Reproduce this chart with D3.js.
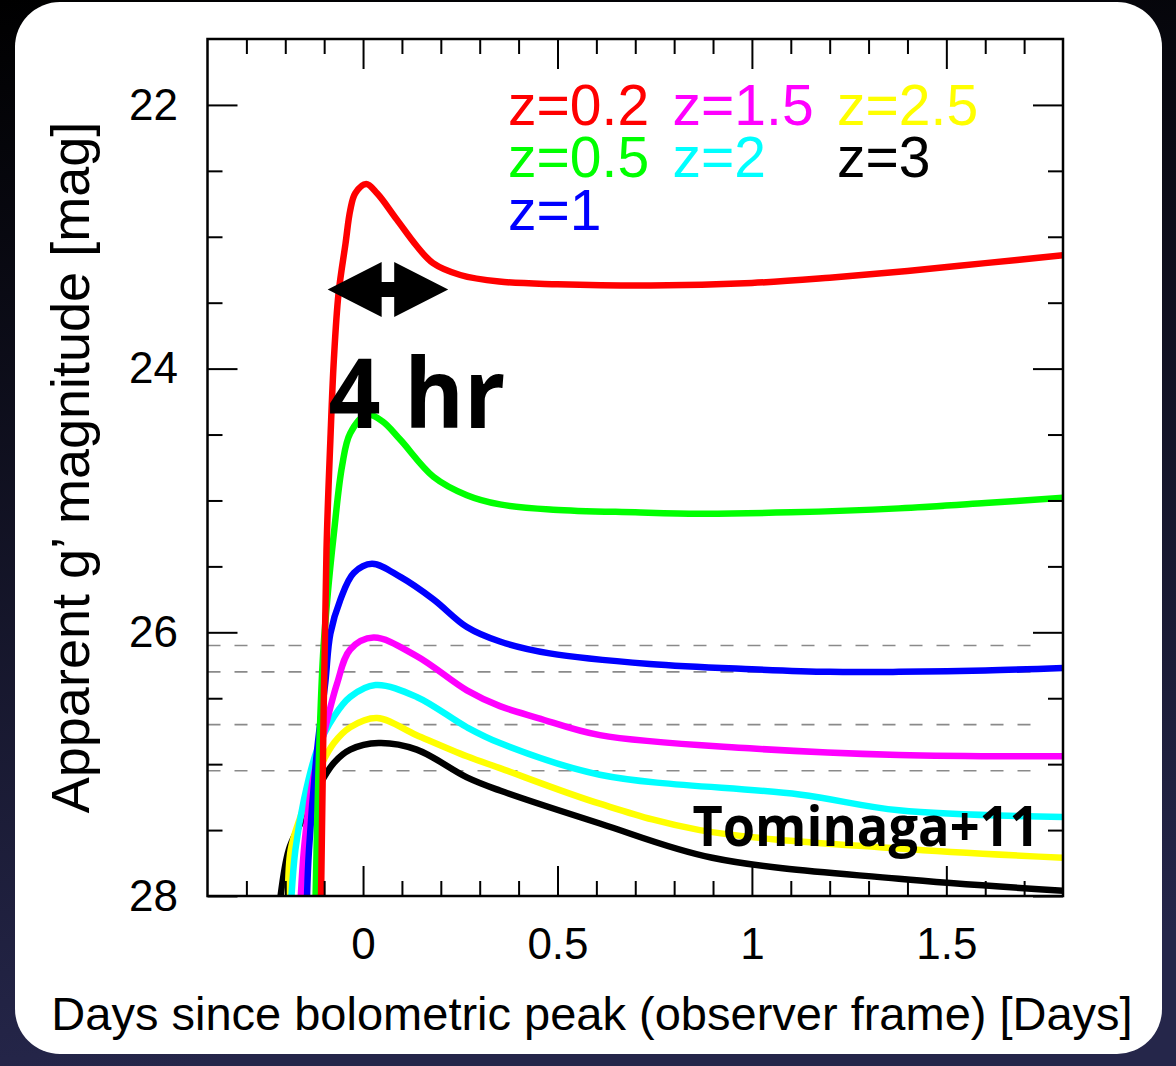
<!DOCTYPE html>
<html>
<head>
<meta charset="utf-8">
<script src="https://cdn.jsdelivr.net/npm/d3@7"></script>
<style>
  body { margin: 0; background: #000; }
  svg { display: block; }
</style>
</head>
<body>
<div id="chart"></div>
<script>
// light curves (days since peak, apparent g' mag)
var labels = ["z=0.2", "z=0.5", "z=1", "z=1.5", "z=2", "z=2.5", "z=3"];
var colors = ["#ff0000", "#00ff00", "#0000ff", "#ff00ff", "#00ffff", "#ffff00", "#000000"];

var days_z02 = [-0.108, -0.094, -0.084, -0.075, -0.063, -0.045, -0.033, -0.02, 0.008, 0.036, 0.087, 0.138, 0.18, 0.25, 0.35, 0.5, 0.74, 1.0, 1.2, 1.4, 1.6, 1.8];
var mag_z02  = [28, 25.38, 24.54, 23.93, 23.43, 23.05, 22.80, 22.67, 22.60, 22.67, 22.87, 23.07, 23.20, 23.29, 23.34, 23.36, 23.37, 23.35, 23.31, 23.26, 23.20, 23.14];

var days_z05 = [-0.122, -0.115, -0.103, -0.092, -0.075, -0.054, -0.033, 0.01, 0.05, 0.096, 0.181, 0.267, 0.352, 0.489, 0.7, 0.865, 1.1, 1.378, 1.6, 1.8];
var mag_z05  = [28, 27.1, 26.18, 25.75, 25.25, 24.74, 24.49, 24.35, 24.40, 24.54, 24.82, 24.96, 25.03, 25.07, 25.09, 25.10, 25.09, 25.06, 25.02, 24.98];

var days_z1 = [-0.144, -0.139, -0.118, -0.097, -0.084, -0.058, -0.024, 0.023, 0.096, 0.181, 0.267, 0.352, 0.48, 0.737, 1.0, 1.2, 1.378, 1.6, 1.8];
var mag_z1  = [28, 27.65, 26.89, 26.38, 26.01, 25.75, 25.55, 25.48, 25.58, 25.75, 25.96, 26.07, 26.16, 26.24, 26.28, 26.30, 26.30, 26.29, 26.27];

var days_z15 = [-0.16, -0.152, -0.131, -0.101, -0.067, -0.033, 0.027, 0.138, 0.267, 0.352, 0.45, 0.609, 0.994, 1.378, 1.8];
var mag_z15  = [28, 27.65, 27.15, 26.77, 26.39, 26.13, 26.04, 26.18, 26.44, 26.56, 26.65, 26.78, 26.88, 26.93, 26.94];

var days_z2 = [-0.184, -0.174, -0.152, -0.118, -0.075, -0.033, 0.032, 0.138, 0.267, 0.352, 0.609, 1.122, 1.378, 1.8];
var mag_z2  = [28, 27.65, 27.27, 26.89, 26.64, 26.49, 26.40, 26.49, 26.72, 26.84, 27.08, 27.23, 27.35, 27.40];

var days_z25 = [-0.193, -0.186, -0.161, -0.118, -0.075, -0.033, 0.036, 0.138, 0.267, 0.352, 0.609, 0.866, 1.378, 1.8];
var mag_z25  = [28, 27.65, 27.40, 27.07, 26.84, 26.72, 26.65, 26.78, 26.94, 27.03, 27.30, 27.50, 27.64, 27.71];

var days_z3 = [-0.212, -0.191, -0.161, -0.118, -0.075, -0.033, 0.04, 0.138, 0.267, 0.352, 0.609, 0.898, 1.378, 1.8];
var mag_z3  = [28, 27.65, 27.45, 27.19, 26.99, 26.89, 26.84, 26.89, 27.10, 27.20, 27.45, 27.71, 27.87, 27.96];

var limitMags = [26.1, 26.3, 26.7, 27.05];
var dayTicks = [0, 0.5, 1, 1.5];
var magTicks = [22, 24, 26, 28];

(function () {
    var allDays = [days_z02, days_z05, days_z1, days_z15, days_z2, days_z25, days_z3];
    var allMags = [mag_z02, mag_z05, mag_z1, mag_z15, mag_z2, mag_z25, mag_z3];

    var series = labels.map(function (l, i) {
        return {
            label: l,
            color: colors[i],
            points: allDays[i].map(function (d, j) { return [d, allMags[i][j]]; })
        };
    });

    var W = 1176, H = 1066;
    var pLeft = 207.5, pRight = 1063, pTop = 39, pBottom = 896;
    var sans = "'Liberation Sans', Arial, Helvetica, sans-serif";
    var bold = "'Open Sans', 'Noto Sans', sans-serif";

    var svg = d3.select("#chart").append("svg")
        .attr("width", W)
        .attr("height", H);

    // dark slide background + white card
    var grad = svg.append("defs").append("linearGradient")
        .attr("id", "bg").attr("x1", 0).attr("y1", 0).attr("x2", 0.15).attr("y2", 1);
    grad.append("stop").attr("offset", "0%").attr("stop-color", "#000000");
    grad.append("stop").attr("offset", "100%").attr("stop-color", "#25264a");
    svg.append("rect").attr("width", W).attr("height", H).attr("fill", "url(#bg)");
    svg.append("rect")
        .attr("x", 15).attr("y", 2)
        .attr("width", 1147).attr("height", 1052)
        .attr("rx", 45)
        .attr("fill", "#fff");

    var x = d3.scaleLinear().domain([-0.4, 1.8]).range([pLeft, pRight]);
    var y = d3.scaleLinear().domain([21.5, 28]).range([pTop, pBottom]);

    svg.append("clipPath").attr("id", "plot")
        .append("rect")
        .attr("x", pLeft).attr("y", pTop)
        .attr("width", pRight - pLeft).attr("height", pBottom - pTop);

    // survey limits
    svg.append("g").selectAll("line")
        .data(limitMags)
        .enter()
        .append("line")
        .attr("x1", x(-0.4)).attr("x2", x(1.73))
        .attr("y1", function (d) { return y(d); })
        .attr("y2", function (d) { return y(d); })
        .attr("stroke", "#8a8a8a")
        .attr("stroke-width", 1.6)
        .attr("stroke-dasharray", "13,14");

    var line = d3.line()
        .x(function (d) { return x(d[0]); })
        .y(function (d) { return y(d[1]); })
        .curve(d3.curveCatmullRom.alpha(0.5));

    // highest z first so z=0.2 ends on top
    svg.append("g").attr("clip-path", "url(#plot)")
        .selectAll("path")
        .data(series.slice().reverse())
        .enter()
        .append("path")
        .attr("d", function (d) { return line(d.points); })
        .attr("fill", "none")
        .attr("stroke", function (d) { return d.color; })
        .attr("stroke-width", 6.5)
        .attr("stroke-linejoin", "round");

    // axes with inward ticks on all four sides
    var minorDays = d3.range(-3, 18).map(function (d) { return d / 10; })
        .filter(function (d) { return dayTicks.indexOf(d) < 0; });
    var minorMags = d3.range(44, 56).map(function (d) { return d / 2; })
        .filter(function (d) { return magTicks.indexOf(d) < 0; });

    function addAxis(axis, transform, values, size, showText, pad) {
        var g = svg.append("g")
            .attr("transform", transform)
            .call(axis.tickValues(values)
                .tickSizeInner(size)
                .tickSizeOuter(0)
                .tickPadding(pad || 0)
                .tickFormat(showText ? d3.format("") : ""));
        g.select(".domain").remove();
        g.selectAll("line").attr("stroke", "#000").attr("stroke-width", 2);
        g.attr("font-family", sans).attr("font-size", 44);
        g.selectAll("text").attr("fill", "#000");
        return g;
    }

    addAxis(d3.axisBottom(x), "translate(0," + pBottom + ")", dayTicks, -30, true, 32);
    addAxis(d3.axisBottom(x), "translate(0," + pBottom + ")", minorDays, -15, false);
    addAxis(d3.axisTop(x), "translate(0," + pTop + ")", dayTicks, -30, false);
    addAxis(d3.axisTop(x), "translate(0," + pTop + ")", minorDays, -15, false);
    addAxis(d3.axisLeft(y), "translate(" + pLeft + ",0)", magTicks, -30, true, 29.5);
    addAxis(d3.axisLeft(y), "translate(" + pLeft + ",0)", minorMags, -15, false);
    addAxis(d3.axisRight(y), "translate(" + pRight + ",0)", magTicks, -30, false);
    addAxis(d3.axisRight(y), "translate(" + pRight + ",0)", minorMags, -15, false);

    svg.append("rect")
        .attr("x", pLeft).attr("y", pTop)
        .attr("width", pRight - pLeft).attr("height", pBottom - pTop)
        .attr("fill", "none")
        .attr("stroke", "#000")
        .attr("stroke-width", 2.5);

    // axis titles
    svg.append("text")
        .attr("x", 592).attr("y", 1030)
        .attr("text-anchor", "middle")
        .attr("font-family", sans).attr("font-size", 47)
        .text("Days since bolometric peak (observer frame) [Days]");

    svg.append("text")
        .attr("transform", "translate(89," + (pTop + pBottom) / 2 + ") rotate(-90)")
        .attr("text-anchor", "middle")
        .attr("font-family", sans).attr("font-size", 54)
        .text("Apparent g\u2019 magnitude [mag]");

    // legend: three columns of coloured labels
    var legendCol = [0, 0, 0, 1, 1, 2, 2];
    var legendRow = [0, 1, 2, 0, 1, 0, 1];
    var colDays = [0.373, 0.796, 1.219];
    var rowMags = [22.152, 22.55, 22.95];

    svg.append("g").selectAll("text")
        .data(series)
        .enter()
        .append("text")
        .attr("x", function (d, i) { return x(colDays[legendCol[i]]); })
        .attr("y", function (d, i) { return y(rowMags[legendRow[i]]); })
        .attr("font-family", sans).attr("font-size", 57)
        .attr("fill", function (d) { return d.color; })
        .text(function (d) { return d.label; });

    // 4 hr double arrow
    var ax0 = x(-0.091), ax1 = x(0.219), ay = y(23.4);
    var headL = 54, headH = 27.5, shaftH = 7.5;
    var arrow = [
        [ax0, ay],
        [ax0 + headL, ay - headH],
        [ax0 + headL, ay - shaftH],
        [ax1 - headL, ay - shaftH],
        [ax1 - headL, ay - headH],
        [ax1, ay],
        [ax1 - headL, ay + headH],
        [ax1 - headL, ay + shaftH],
        [ax0 + headL, ay + shaftH],
        [ax0 + headL, ay + headH]
    ];
    svg.append("path")
        .attr("d", d3.line()(arrow) + "Z")
        .attr("fill", "#000");

    svg.append("text")
        .attr("x", x(-0.089)).attr("y", y(24.45))
        .attr("font-family", bold).attr("font-weight", 700).attr("font-size", 97)
        .attr("textLength", 177).attr("lengthAdjust", "spacingAndGlyphs")
        .text("4 hr");

    svg.append("text")
        .attr("x", x(0.847)).attr("y", y(27.62))
        .attr("font-family", bold).attr("font-weight", 700).attr("font-size", 55)
        .attr("textLength", 347).attr("lengthAdjust", "spacingAndGlyphs")
        .text("Tominaga+11");
})();
</script>
</body>
</html>
